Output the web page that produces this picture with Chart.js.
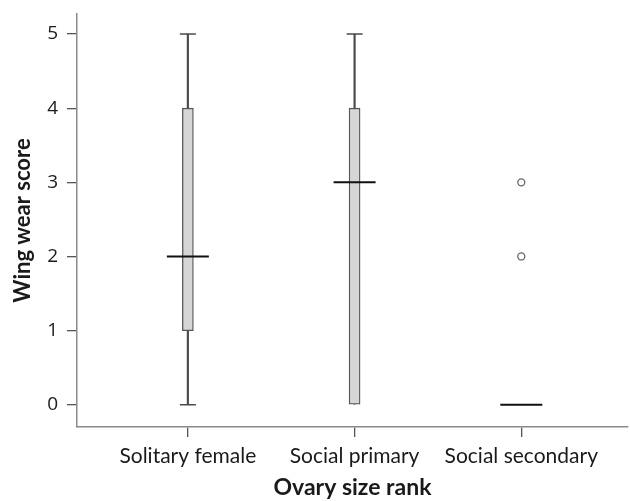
<!DOCTYPE html>
<html>
<head>
<meta charset="utf-8">
<script src="https://cdn.jsdelivr.net/npm/chart.js@4.4.1/dist/chart.umd.min.js"></script>
<style>
  html, body { margin: 0; padding: 0; background: #fff; }
  #wrap { width: 630px; height: 501px; }
</style>
</head>
<body>
<div id="wrap"><canvas id="box"></canvas></div>
<script>
// groups on the x axis (positions 1, 2, 3)
const groups = ['Solitary female', 'Social primary', 'Social secondary'];
const yTicks = [0, 1, 2, 3, 4, 5];

// box plot summary per group (null = not drawn)
const whiskerLow = [0, 0, null];
const quart1 = [1, 0, null];
const medians = [2, 3, 0];
const quart3 = [4, 4, null];
const whiskerHigh = [5, 5, null];
// outliers: [group index, value]
const outliers = [[2, 2], [2, 3]];

const pos = i => i + 1;

const boxData = groups.map((g, i) =>
  quart1[i] === null ? null : {x: pos(i), y: [quart1[i], quart3[i]]});
const whiskerData = groups.map((g, i) =>
  whiskerLow[i] === null ? null : {x: pos(i), y: [whiskerLow[i], whiskerHigh[i]]});
const capData = [];
groups.forEach((g, i) => {
  if (whiskerLow[i] !== null && whiskerLow[i] < quart1[i]) capData.push({x: pos(i), y: whiskerLow[i]});
  if (whiskerHigh[i] !== null && whiskerHigh[i] > quart3[i]) capData.push({x: pos(i), y: whiskerHigh[i]});
});
const medianData = groups.map((g, i) => ({x: pos(i), y: medians[i]}));
const outlierData = outliers.map(o => ({x: pos(o[0]), y: o[1]}));

new Chart(document.getElementById('box'), {
  data: {
    datasets: [
      {
        type: 'bar',
        label: 'whisker',
        data: whiskerData.filter(d => d),
        backgroundColor: '#4a4a4a',
        barThickness: 1.5,
        grouped: false,
        order: 5,
      },
      {
        type: 'bar',
        label: 'box',
        data: boxData.filter(d => d),
        backgroundColor: '#d6d6d6',
        borderColor: '#555',
        borderWidth: 1.3,
        borderSkipped: false,
        barThickness: 11,
        grouped: false,
        order: 4,
      },
      {
        type: 'scatter',
        label: 'caps',
        data: capData,
        pointStyle: 'line',
        pointRadius: 8,
        borderColor: '#4a4a4a',
        borderWidth: 1.5,
        order: 3,
      },
      {
        type: 'scatter',
        label: 'median',
        data: medianData,
        pointStyle: 'line',
        pointRadius: 21,
        borderColor: '#111',
        borderWidth: 2,
        order: 1,
      },
      {
        type: 'scatter',
        label: 'outliers',
        data: outlierData,
        pointStyle: 'circle',
        pointRadius: 3.5,
        backgroundColor: '#fff',
        borderColor: '#666',
        borderWidth: 1.3,
        order: 2,
      },
    ],
  },
  options: {
    responsive: true,
    maintainAspectRatio: false,
    animation: false,
    events: [],
    layout: {autoPadding: false, padding: {top: 14, right: 2, left: 0, bottom: 0}},
    plugins: {legend: {display: false}, tooltip: {enabled: false}},
    scales: {
      x: {
        type: 'linear',
        offset: false,
        min: 0.335,
        max: 3.64,
        afterBuildTicks: s => { s.ticks = groups.map((g, i) => ({value: pos(i)})); },
        afterFit: s => { s.height = 74; s.paddingLeft = 0; s.paddingRight = 0; },
        border: {display: true, color: '#8a8a8a', width: 1.5},
        grid: {offset: false, drawOnChartArea: false, drawTicks: true, tickLength: 10, color: '#555', lineWidth: 1.3},
        ticks: {
          padding: 7,
          color: '#1a1a1a',
          font: {family: 'Lato', size: 21},
          maxRotation: 0,
          autoSkip: false,
          callback: v => groups[v - 1],
        },
        title: {
          display: true,
          text: 'Ovary size rank',
          color: '#1a1a1a',
          font: {family: 'Lato', size: 23, weight: 'bold'},
          padding: {top: 0, bottom: 0},
        },
      },
      y: {
        min: -0.3,
        max: 5.27,
        afterBuildTicks: s => { s.ticks = yTicks.map(v => ({value: v})); },
        afterFit: s => { s.width = 77; s.paddingTop = 0; s.paddingBottom = 0; },
        border: {display: true, color: '#8a8a8a', width: 1.5},
        grid: {drawOnChartArea: false, drawTicks: true, tickLength: 10, color: '#555', lineWidth: 1.3},
        ticks: {
          padding: 9,
          color: '#1a1a1a',
          font: {family: 'Open Sans', size: 19},
        },
        title: {
          display: true,
          text: 'Wing wear score',
          color: '#1a1a1a',
          font: {family: 'Lato', size: 22, weight: 'bold'},
          padding: {top: 10, bottom: 0},
        },
      },
    },
  },
});
</script>
</body>
</html>
